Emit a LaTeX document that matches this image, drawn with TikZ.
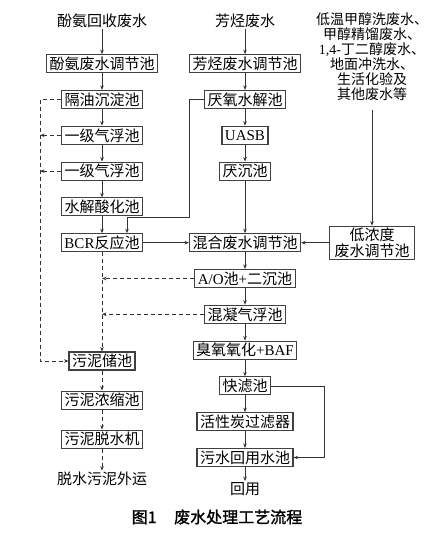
\documentclass[tikz,border=0pt]{standalone}
\usepackage{fontspec}
\setmainfont{Noto Sans CJK SC}
\newfontfamily\latin{Liberation Serif}
\newfontfamily\heiti[FakeBold=1.5]{Noto Sans CJK SC}
\usepackage{tikz}
\usetikzlibrary{arrows.meta, positioning, calc}

\newcommand{\boxfont}{\fontsize{15pt}{16pt}\selectfont}

\begin{document}
\begin{tikzpicture}[
    x=1pt, y=-1pt,
    box/.style={rectangle, draw=black!75, line width=1.1pt, fill=white, minimum height=18pt, inner xsep=3pt, inner ysep=1.5pt, align=center, font=\boxfont},
    src/.style={inner sep=1pt, align=center, font=\boxfont},
    arr/.style={-{Stealth[length=4.5pt, width=3.5pt]}, line width=0.8pt, draw=black!80},
    sludge/.style={arr, dash pattern=on 4pt off 3pt},
    node distance=16.7pt,
]
\useasboundingbox (0,0) rectangle (441,536);

\node[src] (phsrc) at (102,21) {酚氨回收废水};
\node[box, below=25pt of phsrc] (phtank) {酚氨废水调节池};
\node[box, below=of phtank] (oil) {隔油沉淀池};
\node[box, below=of oil] (flot1) {一级气浮池};
\node[box, below=of flot1] (flot2) {一级气浮池};
\node[box, below=of flot2] (hydro) {水解酸化池};
\node[box, below=of hydro] (bcr) {{\latin BCR}反应池};

\node[src] (arsrc) at (245,21) {芳烃废水};
\node[box, below=25pt of arsrc] (artank) {芳烃废水调节池};
\node[box, below=of artank] (anhyd) {厌氧水解池};
\node[box, below=of anhyd] (uasb) {{\latin UASB}};
\node[box, below=of uasb] (ansed) {厌沉池};
\node[box] (mix) at (bcr -| artank) {混合废水调节池};
\node[box, below=of mix] (ao) {{\latin A/O}池{\latin +}二沉池};
\node[box, below=of ao] (coag) {混凝气浮池};
\node[box, below=of coag] (ozone) {臭氧氧化{\latin +BAF}};
\node[box, below=of ozone] (sandf) {快滤池};
\node[box, below=of sandf] (carbon) {活性炭过滤器};
\node[box, below=of carbon] (reuse) {污水回用水池};
\node[src, below=14pt of reuse] (reuseout) {回用};

\node[src, font=\fontsize{14pt}{15pt}\selectfont] (lowsrc) at (372,57) {低温甲醇洗废水、\\甲醇精馏废水、\\{\latin 1,4-}丁二醇废水、\\地面冲洗水、\\生活化验及\\其他废水等};
\node[box, inner xsep=5pt] (lowtank) at (mix -| lowsrc) {低浓度\\废水调节池};

\node[box] (sstore) at (102,361) {污泥储池};
\node[box, below=20pt of sstore] (thick) {污泥浓缩池};
\node[box, below=20pt of thick] (dewater) {污泥脱水机};
\node[src, below=22pt of dewater] (cake) {脱水污泥外运};
\coordinate (bus) at (40,0);

\node[font=\heiti\fontsize{16pt}{18pt}\selectfont] (caption) at (217,517) {图1\hspace{1.1em}废水处理工艺流程};

\draw[arr] (phsrc) -- (phtank);
\draw[arr] (phtank) -- (oil);
\draw[arr] (oil) -- (flot1);
\draw[arr] (flot1) -- (flot2);
\draw[arr] (flot2) -- (hydro);
\draw[arr] (hydro) -- (bcr);

\draw[arr] (arsrc) -- (artank);
\draw[arr] (artank) -- (anhyd);
\draw[arr] (anhyd) -- (uasb);
\draw[arr] (uasb) -- (ansed);
\draw[arr] (ansed) -- (mix);
\draw[arr] (mix) -- (ao);
\draw[arr] (ao) -- (coag);
\draw[arr] (coag) -- (ozone);
\draw[arr] (ozone) -- (sandf);
\draw[arr] (sandf) -- (carbon);
\draw[arr] (carbon) -- (reuse);
\draw[arr] (reuse) -- (reuseout);

\draw[arr] (anhyd.west) -| (189,217) -| ([xshift=25pt]bcr.north);
\draw[arr] (bcr) -- (mix);
\draw[arr, shorten <=8pt] (lowsrc) -- (lowtank);
\draw[arr] (lowtank) -- (mix);
\draw[arr] (sandf.east) -- ++(53,0) |- (reuse.east);

\draw[sludge] (oil.west) -- (oil.west -| bus) |- (sstore.west);
\draw[sludge] (flot1.west) -- (flot1.west -| bus);
\draw[sludge] (flot2.west) -- (flot2.west -| bus);
\draw[sludge] (bcr) -- (sstore);
\draw[sludge] (ao.west) -- (ao.west -| bcr.south);
\draw[sludge] (coag.west) -- (coag.west -| bcr.south);
\draw[sludge] (sstore) -- (thick);
\draw[sludge] (thick) -- (dewater);
\draw[sludge] (dewater) -- (cake);
\end{tikzpicture}
\end{document}
